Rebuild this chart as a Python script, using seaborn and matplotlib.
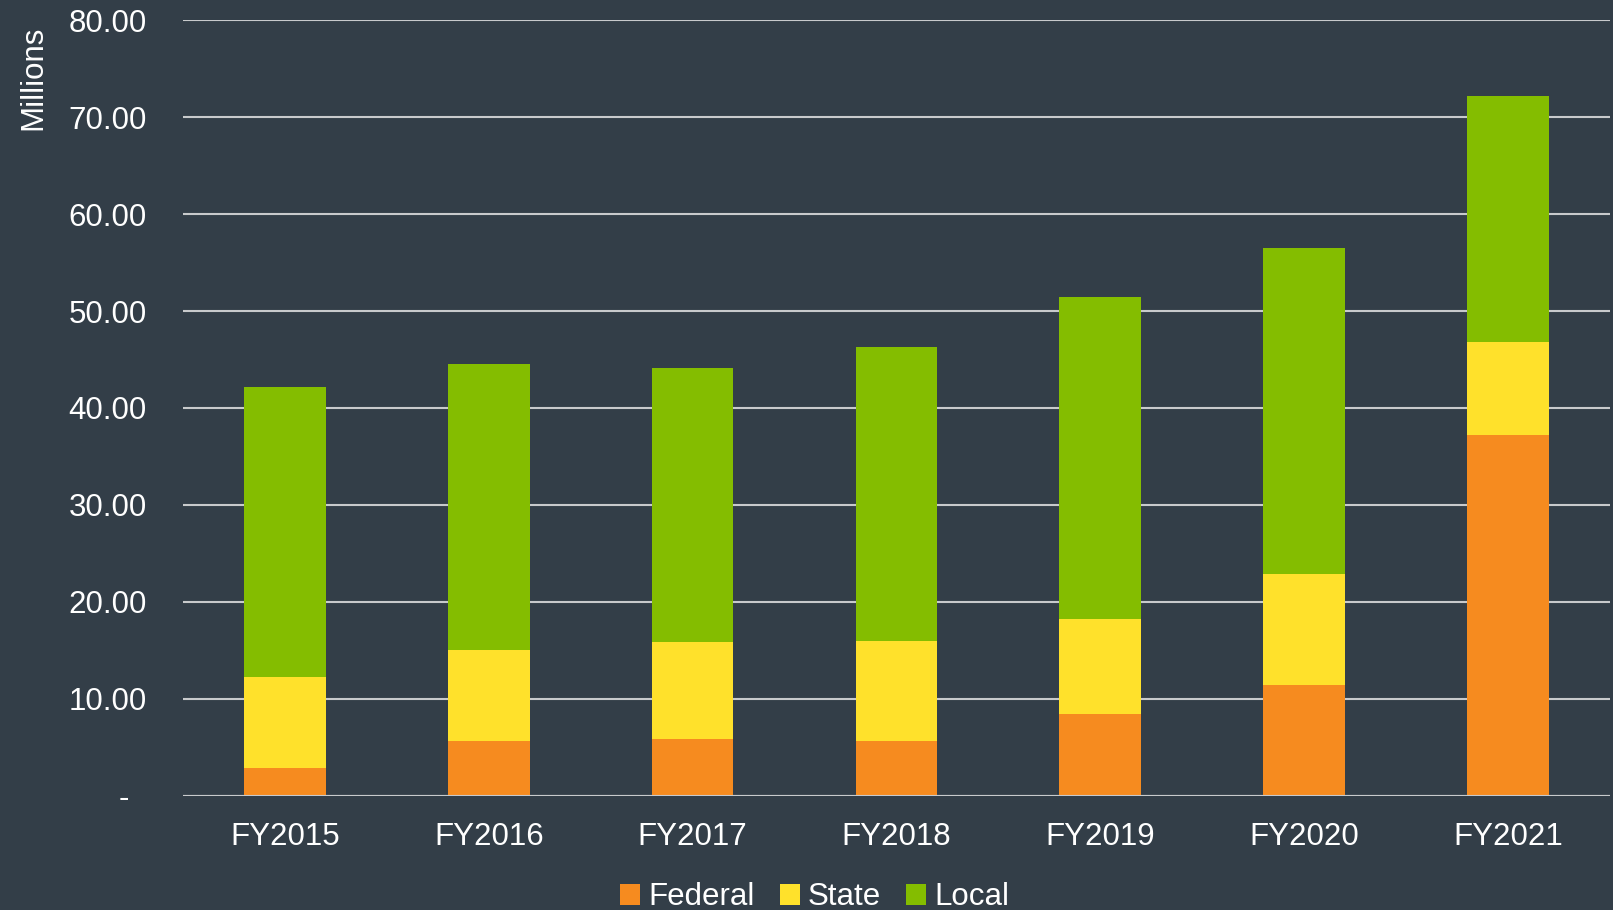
import pandas as pd
import matplotlib.pyplot as plt
import seaborn as sns
from matplotlib.patches import Patch

# Funding by source, in millions
years = ["FY2015", "FY2016", "FY2017", "FY2018", "FY2019", "FY2020", "FY2021"]
federal = [2.9, 5.7, 5.9, 5.7, 8.5, 11.4, 37.2]
state = [9.4, 9.4, 10.0, 10.3, 9.7, 11.5, 9.6]
local = [29.9, 29.4, 28.2, 30.3, 33.2, 33.6, 25.4]

bg = "#333E48"
colors = {"Federal": "#F68B1F", "State": "#FFE12B", "Local": "#84BD00"}
grid_color = "#C8CACC"

df = pd.DataFrame({"year": years, "Federal": federal, "State": state, "Local": local})
df["fed_state"] = df["Federal"] + df["State"]
df["total"] = df["fed_state"] + df["Local"]

sns.set_theme(style="white")
plt.rcParams["font.family"] = ["Liberation Sans", "DejaVu Sans"]

fig = plt.figure(figsize=(16.13, 9.10), dpi=100, facecolor=bg)
ax = fig.add_axes([0.1135, 0.1253, 0.8845, 0.8527])
ax.set_facecolor(bg)

# stacked bars: draw cumulative layers back to front
for col, key, z in [("total", "Local", 2), ("fed_state", "State", 3), ("Federal", "Federal", 4)]:
    sns.barplot(data=df, x="year", y=col, color=colors[key], width=0.4,
                saturation=1, linewidth=0, edgecolor="none", ax=ax, zorder=z)

ax.set_ylim(0, 80)
ax.set_xlim(-0.5, 6.5)
yticks = list(range(0, 81, 10))
ax.set_yticks(yticks)
ax.set_yticklabels(["-  "] + [f"{v:.2f}" for v in yticks[1:]])
ax.yaxis.grid(True, color=grid_color, linewidth=1.5, zorder=1)
ax.set_axisbelow(True)
ax.tick_params(axis="y", length=0, pad=26, labelsize=22.5, labelcolor="white")
ax.tick_params(axis="x", length=0, pad=19, labelsize=22.5, labelcolor="white")
ax.set_xlabel("")
ax.set_ylabel("")
for s in ax.spines.values():
    s.set_visible(False)
ax.axhline(0, color=grid_color, linewidth=1.5, zorder=5)

fig.text(0.0205, 0.972, "Millions", rotation=90, va="top", ha="center",
         fontsize=22.5, color="white")

handles = [Patch(facecolor=colors[k], edgecolor="none", label=k)
           for k in ["Federal", "State", "Local"]]
fig.legend(handles=handles, loc="center", bbox_to_anchor=(0.505, 0.014), ncol=3,
           frameon=False, fontsize=22.5, labelcolor="white", handlelength=0.65,
           handleheight=0.65, handletextpad=0.25, columnspacing=0.8)

plt.savefig("out.png", facecolor=bg)
